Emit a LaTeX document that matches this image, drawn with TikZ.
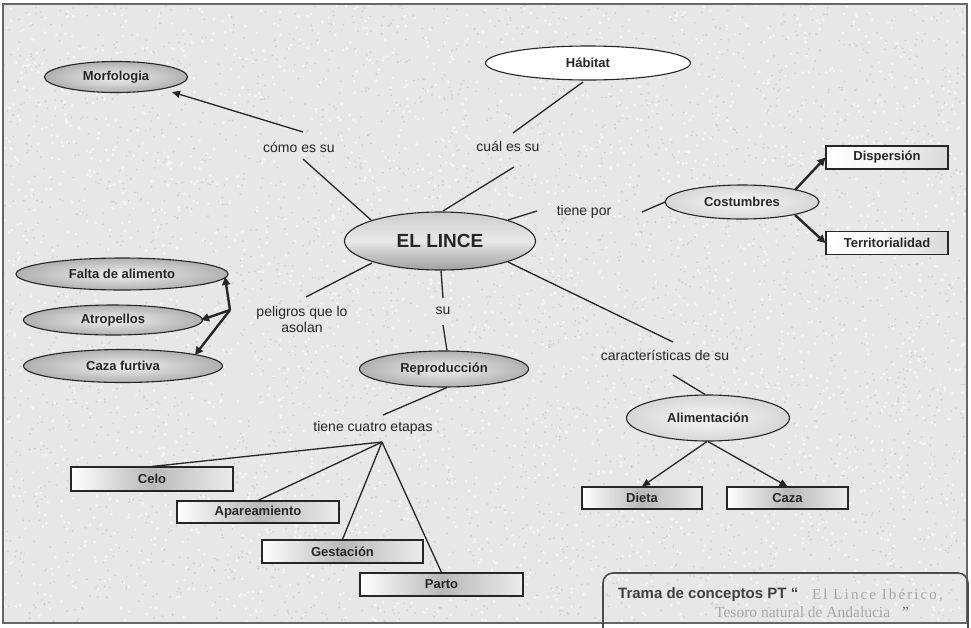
\documentclass[tikz,border=0pt]{standalone}
\usepackage{fontspec}
\setmainfont{Liberation Sans}
\newfontfamily\serifface{Liberation Serif}
\newfontfamily\serifwide[LetterSpace=14]{Liberation Serif}
\usetikzlibrary{shapes.geometric,arrows.meta,calc}

\begin{document}
\begin{tikzpicture}[x=1pt,y=-1pt,
  lbl/.style={font=\fontsize{14}{16}\selectfont, text=black!85, inner sep=1pt, align=center},
  conc/.style={ellipse, draw=black!85, line width=1.1pt, inner sep=0pt,
    font=\bfseries\fontsize{13}{15}\selectfont, text=black!85},
  grayell/.style={conc, inner color=gray!12, outer color=gray!62},
  lightell/.style={conc, inner color=gray!6, outer color=gray!32},
  boxc/.style={rectangle, draw=black!85, line width=1.1pt, inner sep=0pt,
    font=\bfseries\fontsize{13}{15}\selectfont, text=black!85},
  darkbox/.style={boxc, left color=white, right color=gray!15, middle color=gray!55},
  lightbox/.style={boxc, left color=white, right color=gray!30, middle color=gray!8},
  link/.style={draw=black!85, line width=1.3pt},
  arr/.style={link, -{Triangle[length=8pt,width=7pt]}},
  thickarr/.style={link, line width=2.4pt, -{Triangle[length=8pt,width=8pt]}},
]
\useasboundingbox (0,0) rectangle (971,627);
\clip (0,0) rectangle (971,627);

% paper, stucco texture and frame
\fill[white] (0,0) rectangle (971,627);
\fill[gray!19] (3,4) rectangle (967,623);
\pgfmathsetseed{4711}
\begin{scope}
  \clip (3,4) rectangle (967,623);
  \foreach \k in {1,...,3000} {
    \pgfmathsetmacro{\px}{3+964*rnd}
    \pgfmathsetmacro{\py}{4+619*rnd}
    \fill[white, opacity=0.6] (\px,\py) circle (1.5pt);
  }
  \foreach \k in {1,...,3500} {
    \pgfmathsetmacro{\px}{3+964*rnd}
    \pgfmathsetmacro{\py}{4+619*rnd}
    \fill[gray!55, opacity=0.5] (\px,\py) circle (1pt);
  }
\end{scope}
\draw[draw=black!60, line width=1.2pt] (3,4) rectangle (967,623);

% concepts
\node[grayell, minimum width=143pt, minimum height=31pt] (morf) at (116,77) {Morfologia};
\node[conc, fill=white, minimum width=205pt, minimum height=34pt] (hab) at (588,63) {Hábitat};
\node[conc, top color=gray!40, bottom color=gray!75, middle color=gray!18,
      minimum width=191pt, minimum height=58pt,
      font=\bfseries\fontsize{19}{21}\selectfont] (lince) at (440,241) {EL LINCE};
\node[lightell, minimum width=154pt, minimum height=34pt] (cost) at (742,202) {Costumbres};
\node[lightbox, minimum width=122pt, minimum height=23pt] (disp) at (887,157.5) {Dispersión};
\node[lightbox, minimum width=122pt, minimum height=23pt] (terr) at (887,243) {Territorialidad};

\node[grayell, minimum width=212pt, minimum height=32pt] (falta) at (122,274) {Falta de alimento};
\node[grayell, minimum width=179pt, minimum height=30pt] (atro) at (113,320) {Atropellos};
\node[grayell, minimum width=199pt, minimum height=33pt] (cfur) at (123,366) {Caza furtiva};

\node[grayell, minimum width=169pt, minimum height=36pt] (repro) at (444,369) {Reproducción};
\node[lightell, minimum width=163pt, minimum height=46pt] (alim) at (708,418) {Alimentación};
\node[darkbox, minimum width=120pt, minimum height=22pt] (dieta) at (642,498) {Dieta};
\node[darkbox, minimum width=121pt, minimum height=22pt] (caza) at (787.5,498) {Caza};

\node[darkbox, minimum width=162pt, minimum height=24pt] (celo) at (152,479) {Celo};
\node[darkbox, minimum width=162pt, minimum height=22pt] (apar) at (258,512) {Apareamiento};
\node[darkbox, minimum width=161pt, minimum height=23pt] (gest) at (342.5,551.5) {Gestación};
\node[darkbox, minimum width=163pt, minimum height=23pt] (parto) at (441.5,584.5) {Parto};

% linking phrases
\node[lbl] (cmo) at (299,147) {cómo es su};
\node[lbl] (cual) at (508,146) {cuál es su};
\node[lbl] (tpor) at (584,212) {tiene por};
\node[lbl] (pel) at (302,319) {peligros que lo\\asolan};
\node[lbl] (su) at (443,311) {su};
\node[lbl] (car) at (665,355) {características de su};
\node[lbl] (tce) at (373,428) {tiene cuatro etapas};

\coordinate (pj) at (230,310);
\coordinate (tj) at ([shift={(9,14)}]tce.center);

% connectors
\draw[arr]  ([shift={(4,-15)}]cmo.center) -- ([shift={(56,15)}]morf.center);
\draw[link] ([shift={(4,12)}]cmo.center) -- ([shift={(-69,-21)}]lince.center);

\draw[link] ([shift={(-5,19)}]hab.center) -- ([shift={(5,-13)}]cual.center);
\draw[link] ([shift={(6,21)}]cual.center) -- ([shift={(3,-30)}]lince.center);

\draw[link] ([shift={(68,-21)}]lince.center) -- ([shift={(-47,-1)}]tpor.center);
\draw[link] ([shift={(58,0)}]tpor.center) -- ([shift={(-77,0)}]cost.center);
\draw[thickarr] ([shift={(53,-12)}]cost.center) -- (disp.west);
\draw[thickarr] ([shift={(53,13)}]cost.center) -- (terr.west);

\draw[link] ([shift={(-68,22)}]lince.center) -- ([shift={(4,-22)}]pel.center);
\draw[thickarr] (pj) -- ([shift={(103,3)}]falta.center);
\draw[thickarr] (pj) -- ([shift={(88,0)}]atro.center);
\draw[thickarr] (pj) -- ([shift={(72,-11)}]cfur.center);

\draw[link] ([shift={(1,0)}]lince.south) -- ([shift={(0,-13)}]su.center);
\draw[link] ([shift={(0,14)}]su.center) -- ([shift={(3,0)}]repro.north);

\draw[link] ([shift={(68,21)}]lince.center) -- ([shift={(8,-13)}]car.center);
\draw[link] ([shift={(8,20)}]car.center) -- ([shift={(-3,0)}]alim.north);
\draw[arr] ([shift={(-1,0)}]alim.south) -- (dieta.north);
\draw[arr] (alim.south) -- (caza.north);

\draw[link] ([shift={(3,0)}]repro.south) -- ([shift={(10,-13)}]tce.center);
\draw[link] (tj) -- (celo.north);
\draw[link] (tj) -- (apar.north);
\draw[link] (tj) -- (gest.north);
\draw[link] (tj) -- (parto.north);

% caption
\draw[draw=black!70, line width=1.6pt, rounded corners=10pt] (603,573) rectangle (968,640);
\node[anchor=west, inner sep=0pt, font=\bfseries\fontsize{15}{17}\selectfont, text=black!75]
  (capa) at (618,595) {Trama de conceptos PT “};
\node[anchor=west, inner sep=0pt, font=\serifwide\fontsize{15}{17}\selectfont, text=black!35]
  (capb) at (812,595) {El Lince Ibérico,};
\node[anchor=west, inner sep=0pt, font=\serifface\fontsize{15.5}{17}\selectfont, text=black!35]
  (capc) at (715,612) {Tesoro natural de Andalucia\hspace{12pt}{\color{black!60}”}};
\end{tikzpicture}
\end{document}
